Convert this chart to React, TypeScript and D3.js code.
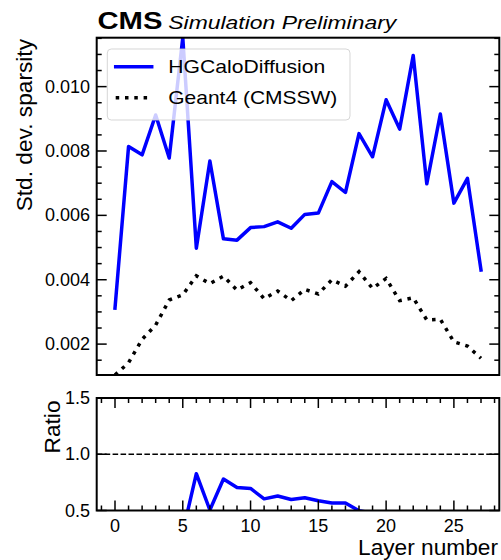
import React from "react";
import * as d3 from "d3";

// ---- data ----
const layers = [0, 1, 2, 3, 4, 5, 6, 7, 8, 9, 10, 11, 12, 13, 14, 15, 16, 17, 18, 19, 20, 21, 22, 23, 24, 25, 26, 27];
const hgcalSparsityStd = [
  0.00312, 0.00814, 0.00788, 0.00912, 0.00778, 0.01152, 0.00498, 0.00769, 0.00527, 0.00523,
  0.00562, 0.00565, 0.0058, 0.0056, 0.00603, 0.00607, 0.00705, 0.00671, 0.00854, 0.00782,
  0.00959, 0.00868, 0.01097, 0.00698, 0.00915, 0.00638, 0.00715, 0.0043,
];
const geantSparsityStd = [
  0.00104, 0.00142, 0.00215, 0.00259, 0.00337, 0.00353, 0.00412, 0.00388, 0.00411, 0.00368,
  0.00391, 0.00341, 0.00365, 0.00335, 0.0037, 0.00356, 0.004, 0.0038, 0.00425, 0.00373,
  0.00404, 0.00335, 0.00344, 0.00275, 0.00277, 0.00207, 0.00194, 0.00156,
];
const seriesNames = ["HGCaloDiffusion", "Geant4 (CMSSW)"];
const mainYTicks = [0.002, 0.004, 0.006, 0.008, 0.01];
const ratioYTicks = [0.5, 1.0, 1.5];
const xTicks = [0, 5, 10, 15, 20, 25];
const ratioDomain = [0.5, 1.5];

const FONT = "'Liberation Sans', Arial, Helvetica, sans-serif";

export default function App() {
  const W = 501;
  const H = 560;
  const left = 96.7;
  const right = 499.3;
  const mainTop = 37.7;
  const mainBottom = 375;
  const ratioTop = 398;
  const ratioBottom = 510.5;

  const x = d3.scaleLinear().domain([-1.35, 28.35]).range([left, right]);
  const allVals = [...hgcalSparsityStd, ...geantSparsityStd];
  const y = d3
    .scaleLinear()
    .domain([d3.min(allVals) as number, d3.max(allVals) as number])
    .range([mainBottom, mainTop]);
  const yr = d3.scaleLinear().domain(ratioDomain).range([ratioBottom, ratioTop]);

  const ratio = layers.map((_, i) => geantSparsityStd[i] / hgcalSparsityStd[i]);

  const line = d3
    .line<number>()
    .x((_, i) => x(layers[i]))
    .y((d) => y(d));
  const rline = d3
    .line<number>()
    .x((_, i) => x(layers[i]))
    .y((d) => yr(d));

  const [y0, y1] = y.domain();
  const minorY: number[] = [];
  for (let v = 0.0005; v < 0.0125; v += 0.0005) {
    const vv = Math.round(v * 1e5) / 1e5;
    if (vv >= y0 && vv <= y1 && !mainYTicks.some((t) => Math.abs(t - vv) < 1e-9)) minorY.push(vv);
  }
  const minorX: number[] = [];
  for (let v = -1; v <= 28; v++) if (v % 5 !== 0) minorX.push(v);

  const major = 10;
  const minor = 5;
  const tickW = 1.5;

  return (
    <svg
      width={W}
      height={H}
      style={{ position: "absolute", left: 0, top: 0, background: "#fff" }}
      fontFamily={FONT}
    >
      <defs>
        <clipPath id="clipMain">
          <rect x={left} y={mainTop} width={right - left} height={mainBottom - mainTop} />
        </clipPath>
        <clipPath id="clipRatio">
          <rect x={left} y={ratioTop} width={right - left} height={ratioBottom - ratioTop} />
        </clipPath>
      </defs>
      <rect x={0} y={0} width={W} height={H} fill="#fff" />

      {/* Header */}
      <text x={97.5} y={28.5} fontSize={23.5} fontWeight="bold" textLength={65} lengthAdjust="spacingAndGlyphs">
        CMS
      </text>
      <text x={168.3} y={28.5} fontSize={18.6} fontStyle="italic" textLength={228} lengthAdjust="spacingAndGlyphs">
        Simulation Preliminary
      </text>

      {/* Main panel lines */}
      <g clipPath="url(#clipMain)">
        <path
          d={line(geantSparsityStd) || ""}
          fill="none"
          stroke="#000"
          strokeWidth={3.5}
          strokeDasharray="3.5 5.8"
          strokeLinecap="butt"
        />
        <path
          d={line(hgcalSparsityStd) || ""}
          fill="none"
          stroke="#0000ff"
          strokeWidth={3.5}
          strokeLinejoin="round"
          strokeLinecap="square"
        />
      </g>

      {/* Main panel y ticks */}
      {mainYTicks.map((t) => (
        <g key={"my" + t}>
          <line x1={left} x2={left + major} y1={y(t)} y2={y(t)} stroke="#000" strokeWidth={tickW} />
          <line x1={right} x2={right - major} y1={y(t)} y2={y(t)} stroke="#000" strokeWidth={tickW} />
          <text x={90} y={y(t)} fontSize={18} textAnchor="end" dominantBaseline="central">
            {d3.format(".3f")(t)}
          </text>
        </g>
      ))}
      {minorY.map((t) => (
        <g key={"mmy" + t}>
          <line x1={left} x2={left + minor} y1={y(t)} y2={y(t)} stroke="#000" strokeWidth={tickW} />
          <line x1={right} x2={right - minor} y1={y(t)} y2={y(t)} stroke="#000" strokeWidth={tickW} />
        </g>
      ))}
      <rect
        x={left}
        y={mainTop}
        width={right - left}
        height={mainBottom - mainTop}
        fill="none"
        stroke="#000"
        strokeWidth={2}
      />

      {/* Legend */}
      <g>
        <rect x={107.3} y={49} width={242.7} height={71} rx={4} fill="#fff" fillOpacity={0.8} stroke="#cccccc" strokeOpacity={0.8} strokeWidth={1} />
        <line x1={115.7} x2={151.7} y1={66.7} y2={66.7} stroke="#0000ff" strokeWidth={3.5} strokeLinecap="square" />
        <line x1={115.7} x2={151.7} y1={97.7} y2={97.7} stroke="#000" strokeWidth={3.5} strokeDasharray="3.5 5.8" />
        <text x={168.3} y={66.7} fontSize={18.6} dominantBaseline="central" textLength={157} lengthAdjust="spacingAndGlyphs">
          {seriesNames[0]}
        </text>
        <text x={168.3} y={97.7} fontSize={18.6} dominantBaseline="central" textLength={169} lengthAdjust="spacingAndGlyphs">
          {seriesNames[1]}
        </text>
      </g>

      {/* Y label main */}
      <text
        transform={`translate(32,39) rotate(-90)`}
        fontSize={22.7}
        textAnchor="end"
      >
        Std. dev. sparsity
      </text>

      {/* Ratio panel */}
      <line x1={left} x2={right} y1={yr(1)} y2={yr(1)} stroke="#000" strokeWidth={1.5} strokeDasharray="5.55 2.4" />
      <g clipPath="url(#clipRatio)">
        <path
          d={rline(ratio) || ""}
          fill="none"
          stroke="#0000ff"
          strokeWidth={3.5}
          strokeLinejoin="round"
        />
      </g>
      {ratioYTicks.map((t) => (
        <g key={"ry" + t}>
          <line x1={left} x2={left + major} y1={yr(t)} y2={yr(t)} stroke="#000" strokeWidth={tickW} />
          <line x1={right} x2={right - major} y1={yr(t)} y2={yr(t)} stroke="#000" strokeWidth={tickW} />
          <text x={90} y={yr(t)} fontSize={18} textAnchor="end" dominantBaseline="central">
            {d3.format(".1f")(t)}
          </text>
        </g>
      ))}
      {xTicks.map((t) => (
        <g key={"rx" + t}>
          <line x1={x(t)} x2={x(t)} y1={ratioBottom} y2={ratioBottom - major} stroke="#000" strokeWidth={tickW} />
          <line x1={x(t)} x2={x(t)} y1={ratioTop} y2={ratioTop + major} stroke="#000" strokeWidth={tickW} />
          <text x={x(t)} y={531.5} fontSize={18} textAnchor="middle">
            {t}
          </text>
        </g>
      ))}
      {minorX.map((t) => (
        <g key={"mrx" + t}>
          <line x1={x(t)} x2={x(t)} y1={ratioBottom} y2={ratioBottom - minor} stroke="#000" strokeWidth={tickW} />
          <line x1={x(t)} x2={x(t)} y1={ratioTop} y2={ratioTop + minor} stroke="#000" strokeWidth={tickW} />
        </g>
      ))}
      <rect
        x={left}
        y={ratioTop}
        width={right - left}
        height={ratioBottom - ratioTop}
        fill="none"
        stroke="#000"
        strokeWidth={2}
      />
      <text transform={`translate(60,400.5) rotate(-90)`} fontSize={22.7} textAnchor="end">
        Ratio
      </text>
      <text x={498} y={555} fontSize={22.7} textAnchor="end">
        Layer number
      </text>
    </svg>
  );
}
